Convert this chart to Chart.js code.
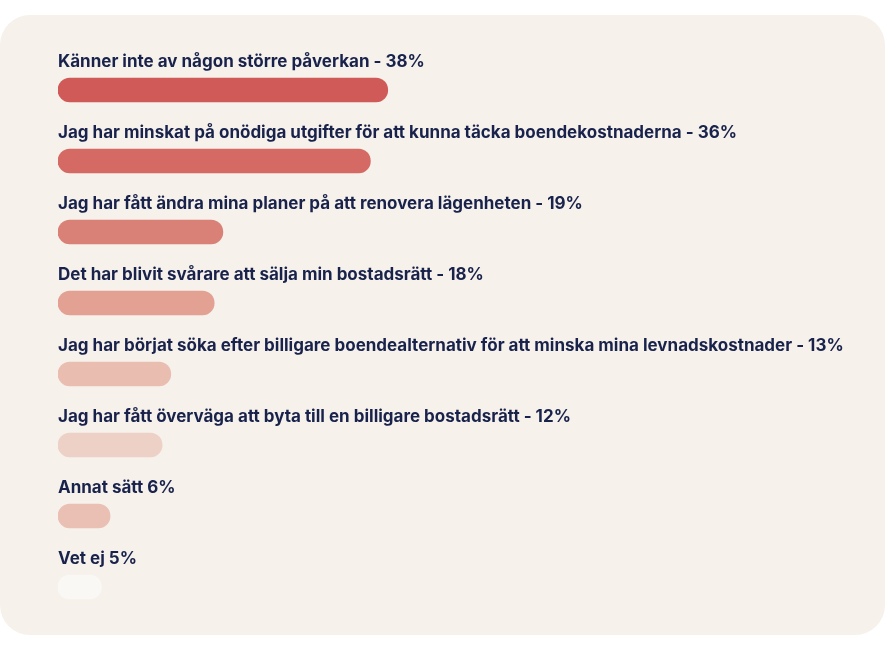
<!DOCTYPE html>
<html>
<head>
<meta charset="utf-8">
<script src="https://cdn.jsdelivr.net/npm/chart.js@4"></script>
<style>
  html, body { margin: 0; padding: 0; background: #ffffff; }
  body { width: 886px; height: 649px; position: relative; overflow: hidden; }
  #card { position: absolute; left: 0; top: 15px; width: 885px; height: 620px; background: #f6f1eb; border-radius: 30px; }
  #wrap { position: absolute; left: 0; top: 0; width: 886px; height: 649px; }
</style>
</head>
<body>
<div id="card"></div>
<div id="wrap"><canvas id="myChart"></canvas></div>
<script>
"use strict";

/* Data */
const labels = [
  'Känner inte av någon större påverkan - 38%',
  'Jag har minskat på onödiga utgifter för att kunna täcka boendekostnaderna - 36%',
  'Jag har fått ändra mina planer på att renovera lägenheten - 19%',
  'Det har blivit svårare att sälja min bostadsrätt - 18%',
  'Jag har börjat söka efter billigare boendealternativ för att minska mina levnadskostnader - 13%',
  'Jag har fått överväga att byta till en billigare bostadsrätt - 12%',
  'Annat sätt 6%',
  'Vet ej 5%'
];
const values = [38, 36, 19, 18, 13, 12, 6, 5];
const colors = ['#cf5a57', '#d46a63', '#d98176', '#e2a193', '#e9beb1', '#eed1c6', '#e9c0b3', '#faf8f5'];

// labels above each bar
const labelsAbove = {
  id: 'labelsAbove',
  afterDatasetsDraw(chart) {
    const ctx = chart.ctx;
    const y = chart.scales.y;
    ctx.save();
    ctx.font = 'bold 17px Inter, "Open Sans", sans-serif';
    ctx.fillStyle = '#18224b';
    ctx.textAlign = 'left';
    ctx.textBaseline = 'alphabetic';
    chart.data.labels.forEach(function (txt, i) {
      ctx.fillText(txt, chart.chartArea.left, y.getPixelForValue(i) - 23);
    });
    ctx.restore();
  }
};

const config = {
  type: 'bar',
  data: {
    labels: labels,
    datasets: [{
      data: values,
      backgroundColor: colors,
      borderWidth: 0,
      borderRadius: 12,
      borderSkipped: false,
      barThickness: 24
    }]
  },
  options: {
    indexAxis: 'y',
    responsive: false,
    animation: false,
    layout: { padding: { left: 58, right: 47, top: 54.5, bottom: 26.5 } },
    scales: {
      x: { display: false, min: 0, max: 90 },
      y: { display: false, offset: true }
    },
    plugins: {
      legend: { display: false },
      tooltip: { enabled: false }
    }
  },
  plugins: [labelsAbove]
};

const cv = document.getElementById('myChart');
cv.width = 886;
cv.height = 649;
cv.style.width = '886px';
cv.style.height = '649px';
const myChart = new Chart(cv, config);
</script>
</body>
</html>
